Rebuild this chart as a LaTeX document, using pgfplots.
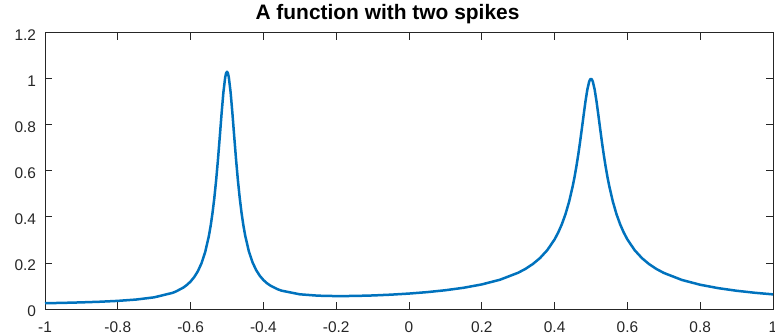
\documentclass[border=0pt]{standalone}
\usepackage{fontspec}
\setmainfont{Liberation Sans}
\usepackage{pgfplots}
\pgfplotsset{compat=1.18}
\definecolor{mblue}{HTML}{0072BD}
\definecolor{axgray}{HTML}{262626}
\begin{document}
\begin{tikzpicture}
\begin{axis}[name=ax, scale only axis, width=728bp, height=276bp,
  xmin=-1, xmax=1, ymin=0, ymax=1.2,
  xtick={-1,-0.8,-0.6,-0.4,-0.2,0,0.2,0.4,0.6,0.8,1},
  xticklabels={-1,-0.8,-0.6,-0.4,-0.2,0,0.2,0.4,0.6,0.8,1},
  ytick={0,0.2,0.4,0.6,0.8,1,1.2},
  yticklabels={0,0.2,0.4,0.6,0.8,1,1.2},
  tick align=inside, major tick length=7bp,
  axis line style={axgray, line width=1bp},
  tick style={axgray, line width=1bp},
  tick label style={font=\fontsize{15.5}{17}\selectfont, text=axgray},
  xticklabel style={anchor=base, yshift=-23.5bp},
  yticklabel style={xshift=-5.5bp, yshift=-2bp},
  title={A function with two spikes},
  title style={font=\fontsize{21}{24}\selectfont\bfseries, at={(0.5,1)}, anchor=base, yshift=8bp, xshift=-21.5bp},
  clip=false,
]
\addplot[mblue, line width=2.5bp, line join=round, no markers] coordinates {
(-1,0.02505) (-0.95,0.02671) (-0.9,0.02879) (-0.85,0.03152) (-0.8,0.03531)
(-0.75,0.04104) (-0.7,0.05073) (-0.65,0.07004) (-0.64,0.07626) (-0.62,0.09315)
(-0.61,0.10481) (-0.6,0.11964) (-0.59,0.13888) (-0.58,0.1644) (-0.57,0.19902)
(-0.56,0.2472) (-0.55,0.3158) (-0.545,0.3608) (-0.54,0.4150) (-0.535,0.4800)
(-0.53,0.5570) (-0.525,0.6462) (-0.52,0.7453) (-0.515,0.8475) (-0.51,0.9404)
(-0.505,1.0071) (-0.5025,1.0253) (-0.5,1.0316) (-0.4975,1.0255) (-0.495,1.0074)
(-0.49,0.9410) (-0.485,0.8484) (-0.48,0.7465) (-0.475,0.6478) (-0.47,0.5589)
(-0.465,0.4822) (-0.46,0.4175) (-0.455,0.3637) (-0.45,0.3190) (-0.44,0.2510)
(-0.43,0.20347) (-0.42,0.1695) (-0.41,0.14462) (-0.4,0.1260) (-0.39,0.11185)
(-0.38,0.1009) (-0.36,0.0853) (-0.35,0.07973) (-0.3,0.06389) (-0.25,0.05789)
(-0.2,0.05612) (-0.15,0.05669) (-0.1,0.05884) (-0.05,0.06232) (0,0.0671)
(0.05,0.07338) (0.1,0.08158) (0.15,0.09234) (0.2,0.10687) (0.25,0.12726)
(0.3,0.15773) (0.32,0.1745) (0.34,0.19531) (0.36,0.22168) (0.38,0.25611)
(0.4,0.30274) (0.41,0.33271) (0.42,0.36879) (0.43,0.41285) (0.44,0.46738)
(0.45,0.53563) (0.455,0.57606) (0.46,0.62127) (0.465,0.67149) (0.47,0.72656)
(0.475,0.78553) (0.48,0.84621) (0.485,0.90456) (0.49,0.9545) (0.495,0.98876)
(0.4975,0.99789) (0.5,1.001) (0.5025,0.99789) (0.505,0.98872) (0.51,0.95444)
(0.515,0.90448) (0.52,0.84611) (0.525,0.78541) (0.53,0.72642) (0.535,0.67133)
(0.54,0.6211) (0.545,0.57588) (0.55,0.53543) (0.56,0.46714) (0.57,0.41256)
(0.58,0.36847) (0.59,0.33234) (0.6,0.30234) (0.62,0.25562) (0.64,0.2211)
(0.66,0.19464) (0.68,0.17374) (0.7,0.15686) (0.75,0.12613) (0.8,0.10542)
(0.85,0.09053) (0.9,0.07932) (0.95,0.07057) (1,0.06356)
};
\end{axis}
\pgfresetboundingbox
\path ([xshift=-45bp,yshift=-26bp]ax.south west) rectangle ([xshift=2bp,yshift=33bp]ax.north east);
\end{tikzpicture}
\end{document}
